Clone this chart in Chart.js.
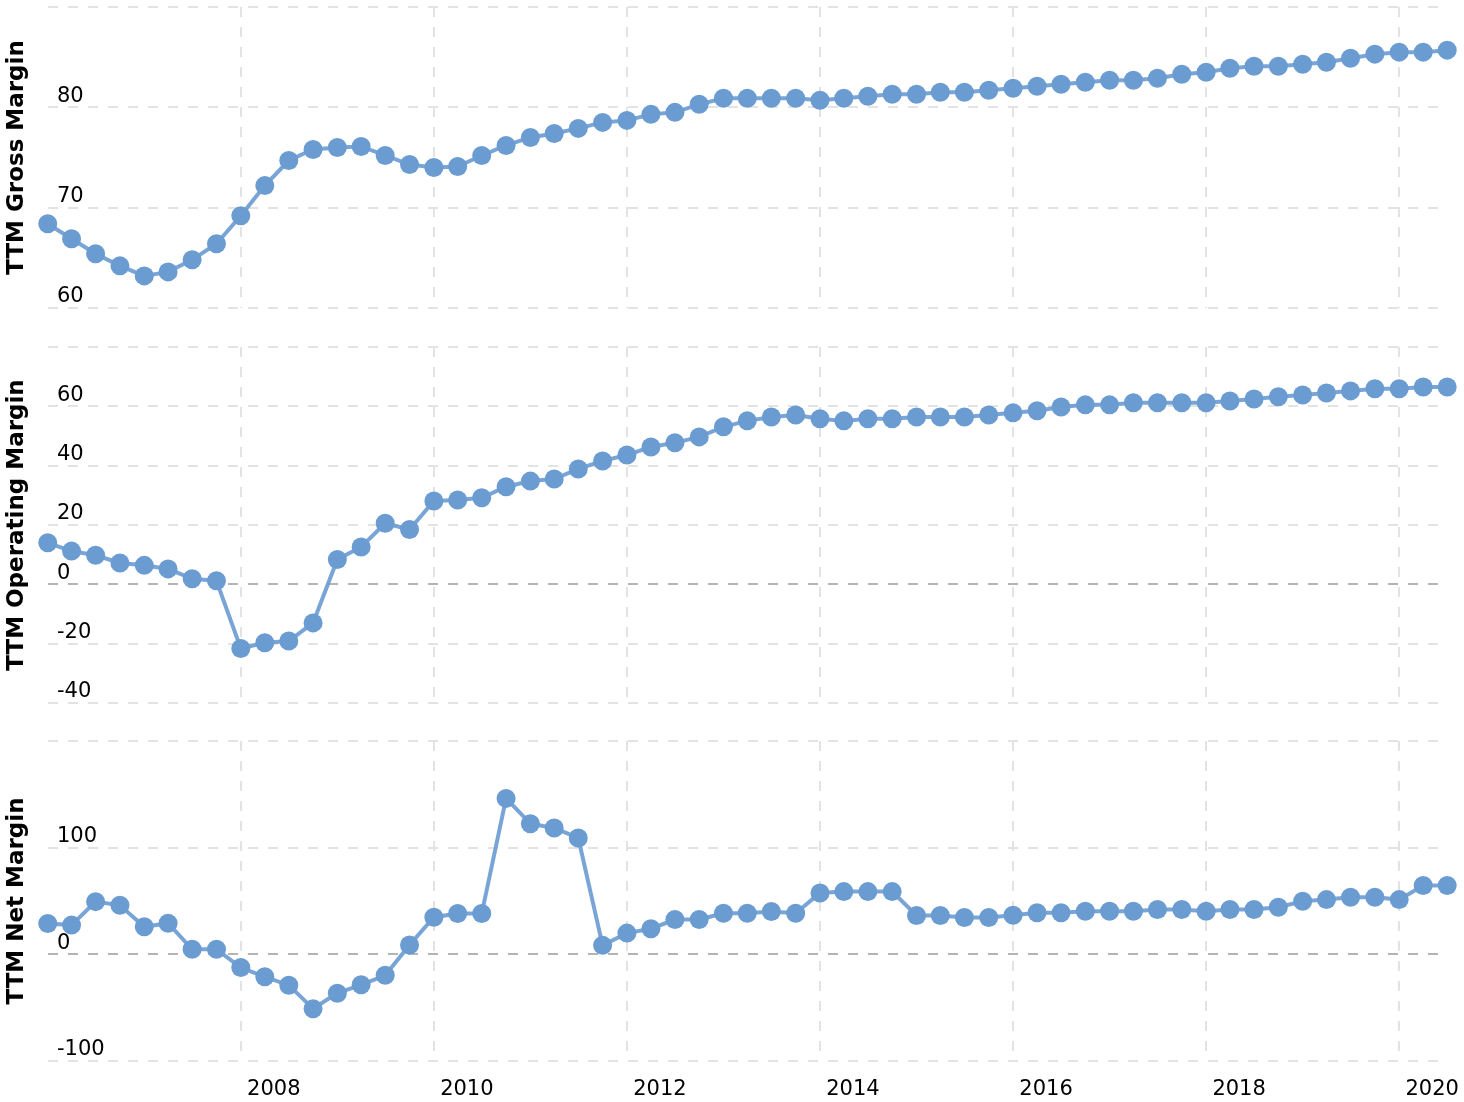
<!DOCTYPE html>
<html>
<head>
<meta charset="utf-8">
<title>TTM Margins</title>
<script src="https://cdn.jsdelivr.net/npm/chart.js@4/dist/chart.umd.min.js"></script>
<style>
  html, body { margin: 0; padding: 0; background: #fff; }
  #wrap { position: relative; width: 1464px; height: 1102px; overflow: hidden; }
  #wrap canvas { position: absolute; left: 0; }
</style>
</head>
<body>
<div id="wrap">
  <canvas id="gross" width="1464" height="320" style="top:0px"></canvas>
  <canvas id="operating" width="1464" height="390" style="top:330px"></canvas>
  <canvas id="net" width="1464" height="382" style="top:720px"></canvas>
</div>
<script>
/**
 * Data (quarter end dates, TTM margins in %).
 */
const quarters = [
  '2005-12-31',
  '2006-03-31', '2006-06-30', '2006-09-30', '2006-12-31',
  '2007-03-31', '2007-06-30', '2007-09-30', '2007-12-31',
  '2008-03-31', '2008-06-30', '2008-09-30', '2008-12-31',
  '2009-03-31', '2009-06-30', '2009-09-30', '2009-12-31',
  '2010-03-31', '2010-06-30', '2010-09-30', '2010-12-31',
  '2011-03-31', '2011-06-30', '2011-09-30', '2011-12-31',
  '2012-03-31', '2012-06-30', '2012-09-30', '2012-12-31',
  '2013-03-31', '2013-06-30', '2013-09-30', '2013-12-31',
  '2014-03-31', '2014-06-30', '2014-09-30', '2014-12-31',
  '2015-03-31', '2015-06-30', '2015-09-30', '2015-12-31',
  '2016-03-31', '2016-06-30', '2016-09-30', '2016-12-31',
  '2017-03-31', '2017-06-30', '2017-09-30', '2017-12-31',
  '2018-03-31', '2018-06-30', '2018-09-30', '2018-12-31',
  '2019-03-31', '2019-06-30', '2019-09-30', '2019-12-31',
  '2020-03-31', '2020-06-30',
];

const grossMargin = [
  68.4, 66.9, 65.4, 64.2, 63.2, 63.6, 64.8, 66.4, 69.2, 72.2,
  74.7, 75.8, 76.0, 76.1, 75.2, 74.3, 74.0, 74.1, 75.2, 76.2,
  77.0, 77.4, 77.9, 78.5, 78.7, 79.3, 79.5, 80.3, 80.9, 80.9,
  80.9, 80.9, 80.7, 80.9, 81.1, 81.3, 81.3, 81.5, 81.5, 81.7,
  81.9, 82.1, 82.3, 82.5, 82.7, 82.7, 82.9, 83.3, 83.5, 83.9,
  84.1, 84.1, 84.3, 84.5, 84.9, 85.3, 85.5, 85.5, 85.7,
];

const operatingMargin = [
  14.0, 11.2, 9.8, 7.2, 6.4, 5.2, 1.9, 1.2, -21.6, -19.7,
  -19.1, -13.0, 8.4, 12.6, 20.6, 18.5, 28.1, 28.4, 29.2, 32.9,
  34.8, 35.5, 38.9, 41.6, 43.6, 46.3, 47.7, 49.7, 53.1, 55.1,
  56.4, 57.1, 55.8, 55.1, 55.8, 55.8, 56.4, 56.4, 56.4, 57.1,
  57.8, 58.5, 59.8, 60.5, 60.5, 61.2, 61.2, 61.2, 61.2, 61.8,
  62.5, 63.2, 63.8, 64.5, 65.2, 65.9, 65.9, 66.5, 66.5,
];

const netMargin = [
  28.9, 27.4, 49.4, 46.0, 25.8, 29.2, 4.7, 4.7, -12.4, -21.1,
  -28.9, -51.0, -36.4, -28.6, -19.6, 8.7, 34.8, 38.2, 38.2, 146.2,
  122.5, 118.5, 109.1, 8.4, 19.9, 24.0, 32.6, 32.6, 38.5, 38.5,
  40.1, 38.5, 57.5, 58.8, 58.8, 58.8, 36.4, 36.4, 34.5, 34.5,
  36.7, 38.9, 38.9, 40.4, 40.4, 40.4, 42.0, 42.0, 40.4, 42.0,
  42.0, 44.2, 49.7, 51.3, 53.5, 53.5, 51.3, 64.6, 64.6,
];

const yearTicks = [2008, 2010, 2012, 2014, 2016, 2018, 2020];
const grossTicks = [60, 70, 80, 90];
const operatingTicks = [-40, -20, 0, 20, 40, 60, 80];
const netTicks = [-100, 0, 100, 200];

/**
 * Style.
 */
const FONT = 'DejaVu Sans';
const POINT_COLOR = '#6a9bd1';
const LINE_COLOR = 'rgba(106, 155, 209, 0.9)';
const GRID_COLOR = '#e3e3e3';
const ZERO_COLOR = '#b4b4b4';

/**
 * Date string -> decimal year, so points sit on their real dates.
 * @param {String} str
 */
function toYear(str) {
  const [y, m, d] = str.split('-').map(Number);
  const start = Date.UTC(y, 0, 1);
  const end = Date.UTC(y + 1, 0, 1);
  return y + (Date.UTC(y, m - 1, d) - start) / (end - start);
}

/**
 * Build one panel.
 * @param {String} id - canvas id
 * @param {String} title - y axis title
 * @param {Array} values - series
 * @param {Array} ticks - y gridline values
 * @param {Object} pad - layout padding
 * @param {Boolean} showYears - draw the x labels
 */
function makePanel(id, title, values, ticks, pad, showYears) {
  const yMax = ticks[ticks.length - 1];

  return new Chart(document.getElementById(id), {
    type: 'line',
    data: {
      datasets: [{
        data: quarters.map((q, i) => ({ x: toYear(q), y: values[i] })),
        borderColor: LINE_COLOR,
        borderWidth: 4,
        pointRadius: 9.5,
        pointBorderWidth: 0,
        pointBackgroundColor: POINT_COLOR,
        pointHoverRadius: 9.5,
        tension: 0,
        clip: false,
      }],
    },
    options: {
      responsive: false,
      animation: false,
      events: [],
      layout: {
        autoPadding: false,
        padding: { top: pad.top, bottom: pad.bottom, left: 0, right: 24 },
      },
      plugins: {
        legend: { display: false },
        tooltip: { enabled: false },
      },
      scales: {
        x: {
          type: 'linear',
          min: 2006,
          max: 2020.42,
          afterBuildTicks: (scale) => {
            scale.ticks = yearTicks.map((v) => ({ value: v }));
          },
          afterFit: (scale) => {
            scale.height = showYears ? 41 : 0;
            scale.paddingLeft = 0;
            scale.paddingRight = 0;
          },
          grid: { color: GRID_COLOR, lineWidth: 2, drawTicks: false },
          border: { display: false, dash: [10, 10] },
          ticks: {
            display: showYears,
            autoSkip: false,
            maxRotation: 0,
            align: 'start',
            labelOffset: 6,
            padding: 16,
            color: '#000',
            font: { family: FONT, size: 21 },
            callback: (v) => String(v),
          },
        },
        y: {
          min: ticks[0],
          max: yMax,
          afterBuildTicks: (scale) => {
            scale.ticks = ticks.map((v) => ({ value: v }));
          },
          afterFit: (scale) => {
            scale.width = 48;
            scale.paddingTop = 0;
            scale.paddingBottom = 0;
          },
          grid: {
            color: (ctx) => (ctx.tick && ctx.tick.value === 0 ? ZERO_COLOR : GRID_COLOR),
            lineWidth: 2,
            drawTicks: false,
          },
          border: { display: false, dash: [10, 10] },
          ticks: {
            mirror: true,
            padding: 9,
            labelOffset: -11,
            color: '#000',
            font: { family: FONT, size: 21 },
            callback: (v) => (v === yMax ? '' : String(v)),
          },
          title: {
            display: true,
            text: title,
            color: '#000',
            font: { family: FONT, size: 23, weight: 'bold' },
            padding: { top: 3, bottom: 0 },
          },
        },
      },
    },
  });
}

makePanel('gross', 'TTM Gross Margin', grossMargin, grossTicks, { top: 7, bottom: 12 }, false);
makePanel('operating', 'TTM Operating Margin', operatingMargin, operatingTicks, { top: 17, bottom: 17 }, false);
makePanel('net', 'TTM Net Margin', netMargin, netTicks, { top: 21, bottom: 0 }, true);
</script>
</body>
</html>
